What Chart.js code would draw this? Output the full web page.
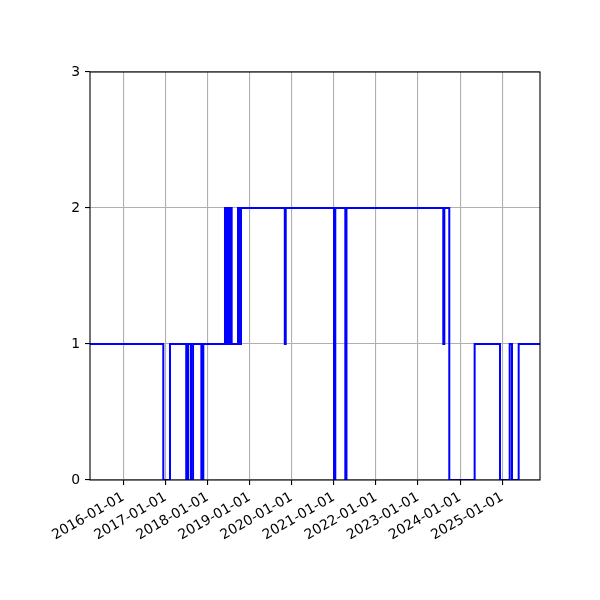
<!DOCTYPE html>
<html>
<head>
<meta charset="utf-8">
<script src="https://cdn.jsdelivr.net/npm/chart.js@4"></script>
<style>
  body { margin: 0; background: #fff; }
  #wrap { width: 600px; height: 600px; }
</style>
</head>
<body>
<div id="wrap"><canvas id="stepChart" width="600" height="600"></canvas></div>
<script>
/****step data*****/
// each entry: the level starts at that date and holds until the next one
const changeDates = [
  '2015-03-18', '2016-12-13', '2017-02-09', '2017-06-30', '2017-07-17',
  '2017-08-10', '2017-08-28', '2017-11-08', '2017-11-25', '2018-06-01',
  '2018-06-14', '2018-06-23', '2018-07-06', '2018-07-15', '2018-07-29',
  '2018-09-22', '2018-10-09', '2018-10-18', '2019-11-02', '2019-11-10',
  '2021-01-02', '2021-01-13', '2021-04-10', '2021-04-20', '2023-08-08',
  '2023-08-17', '2023-09-29', '2024-05-06', '2024-12-12', '2025-03-06',
  '2025-03-26', '2025-05-23', '2025-11-24'
];
const levels = [
  1, 0, 1, 0, 1,
  0, 1, 0, 1, 2,
  1, 2, 1, 2, 1,
  2, 1, 2, 1, 2,
  0, 2, 0, 2, 1,
  2, 0, 1, 0, 1,
  0, 1, 1
];
const tickYears = [2016, 2017, 2018, 2019, 2020, 2021, 2022, 2023, 2024, 2025];
const yTicks = [0, 1, 2, 3];
/*****************/

const toMs = (s) => Date.parse(s + 'T00:00:00Z');
const points = changeDates.map((d, i) => ({ x: toMs(d), y: levels[i] }));

const frame = {
  id: 'frame',
  afterDatasetsDraw(chart) {
    const a = chart.chartArea;
    const ctx = chart.ctx;
    ctx.save();
    ctx.strokeStyle = '#000';
    ctx.lineWidth = 1.1;
    ctx.strokeRect(a.left, a.top, a.right - a.left, a.bottom - a.top);
    ctx.restore();
  }
};

const stepConfig = {
  type: 'line',
  data: {
    datasets: [{
      data: points,
      borderColor: '#0000ff',
      borderWidth: 2,
      stepped: true,
      fill: false,
      pointRadius: 0,
      tension: 0,
    }]
  },
  options: {
    responsive: false,
    animation: false,
    layout: { padding: { top: 72, right: 60, left: 0, bottom: 0 } },
    plugins: {
      legend: { display: false },
      tooltip: { enabled: false },
    },
    scales: {
      x: {
        type: 'linear',
        min: toMs(changeDates[0]),
        max: toMs(changeDates[changeDates.length - 1]),
        afterBuildTicks: (scale) => {
          scale.ticks = tickYears.map(y => ({ value: Date.UTC(y, 0, 1) }));
        },
        afterFit: (scale) => { scale.height = 120; },
        grid: { color: '#b0b0b0', lineWidth: 1.1, tickColor: '#000', tickLength: 5 },
        border: { display: false },
        ticks: {
          autoSkip: false,
          minRotation: 30,
          maxRotation: 30,
          padding: 4,
          color: '#000',
          font: { family: 'DejaVu Sans', size: 13.9 },
          callback: (v) => new Date(v).toISOString().slice(0, 10),
        },
      },
      y: {
        min: 0,
        max: 3,
        afterBuildTicks: (scale) => {
          scale.ticks = yTicks.map(v => ({ value: v }));
        },
        afterFit: (scale) => { scale.width = 90; },
        grid: { color: '#b0b0b0', lineWidth: 1.1, tickColor: '#000', tickLength: 5 },
        border: { display: false },
        ticks: {
          padding: 5,
          color: '#000',
          font: { family: 'DejaVu Sans', size: 13.9 },
        },
      }
    }
  },
  plugins: [frame],
};

var stepChart = new Chart(
  document.getElementById('stepChart'),
  stepConfig
);
</script>
</body>
</html>
